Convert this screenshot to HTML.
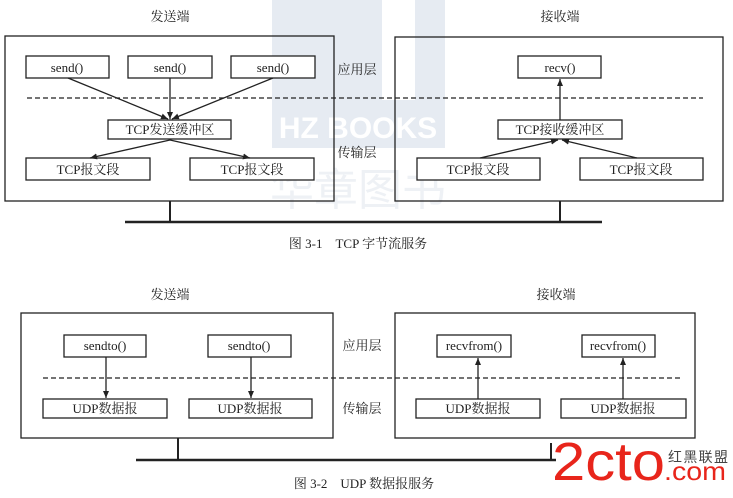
<!DOCTYPE html>
<html><head><meta charset="utf-8"><style>
html,body{margin:0;padding:0;background:#fff;}
svg{display:block;}
text{font-family:"Liberation Serif","Noto Serif CJK SC",serif;fill:#222;}
</style></head><body>
<svg width="733" height="498" viewBox="0 0 733 498" xmlns="http://www.w3.org/2000/svg">
<defs><marker id="a" markerWidth="8" markerHeight="8" refX="7" refY="3" orient="auto" markerUnits="userSpaceOnUse"><path d="M0,0 L7,3 L0,6 z" fill="#222"/></marker></defs>
<!-- watermark -->
<rect x="272" y="0" width="173" height="148" fill="#e6ebf2"/>
<rect x="382" y="0" width="33" height="100" fill="#fff"/>
<text x="358" y="138" font-size="30" font-weight="bold" text-anchor="middle" style="fill:#fff;font-family:'Liberation Sans',sans-serif">HZ BOOKS</text>
<text x="358" y="205" font-size="44" text-anchor="middle" style="fill:#eef1f5;font-family:'Noto Sans CJK SC',sans-serif">华章图书</text>
<g stroke="#222" fill="none" stroke-width="1.3">
<rect x="5" y="36" width="329" height="165"/>
<rect x="395" y="37" width="328" height="164"/>
<rect x="26" y="56" width="83" height="22" fill="#fff"/>
<rect x="128" y="56" width="84" height="22" fill="#fff"/>
<rect x="231" y="56" width="84" height="22" fill="#fff"/>
<rect x="108" y="120" width="123" height="19" fill="#fff"/>
<rect x="26" y="158" width="124" height="22" fill="#fff"/>
<rect x="190" y="158" width="124" height="22" fill="#fff"/>
<rect x="518" y="56" width="83" height="22" fill="#fff"/>
<rect x="498" y="120" width="124" height="19" fill="#fff"/>
<rect x="417" y="158" width="123" height="22" fill="#fff"/>
<rect x="580" y="158" width="123" height="22" fill="#fff"/>
<line x1="27" y1="98" x2="703" y2="98" stroke-dasharray="5,3"/>
<line x1="68" y1="78" x2="168" y2="119" marker-end="url(#a)"/>
<line x1="170" y1="78" x2="170" y2="119" marker-end="url(#a)"/>
<line x1="273" y1="78" x2="172" y2="119" marker-end="url(#a)"/>
<line x1="170" y1="140" x2="90" y2="158" marker-end="url(#a)"/>
<line x1="170" y1="140" x2="250" y2="158" marker-end="url(#a)"/>
<line x1="560" y1="120" x2="560" y2="79" marker-end="url(#a)"/>
<line x1="480" y1="158" x2="558" y2="140" marker-end="url(#a)"/>
<line x1="637" y1="158" x2="562" y2="140" marker-end="url(#a)"/>
<line x1="170" y1="201" x2="170" y2="222" stroke-width="2"/>
<line x1="560" y1="201" x2="560" y2="222" stroke-width="2"/>
<line x1="125" y1="222" x2="602" y2="222" stroke-width="2.5"/>
<!-- bottom -->
<rect x="21" y="313" width="312" height="125"/>
<rect x="395" y="313" width="300" height="125"/>
<rect x="64" y="335" width="82" height="22"/>
<rect x="208" y="335" width="83" height="22"/>
<rect x="437" y="335" width="74" height="22"/>
<rect x="582" y="335" width="73" height="22"/>
<rect x="43" y="399" width="124" height="19"/>
<rect x="189" y="399" width="123" height="19"/>
<rect x="416" y="399" width="124" height="19"/>
<rect x="561" y="399" width="125" height="19"/>
<line x1="43" y1="378" x2="682" y2="378" stroke-dasharray="5,3"/>
<line x1="106" y1="357" x2="106" y2="398" marker-end="url(#a)"/>
<line x1="251" y1="357" x2="251" y2="398" marker-end="url(#a)"/>
<line x1="478" y1="399" x2="478" y2="358" marker-end="url(#a)"/>
<line x1="623" y1="399" x2="623" y2="358" marker-end="url(#a)"/>
<line x1="178" y1="438" x2="178" y2="460" stroke-width="2"/>
<line x1="551" y1="443" x2="551" y2="460" stroke-width="2"/>
<line x1="136" y1="460" x2="556" y2="460" stroke-width="2.5"/>
</g>
<g font-size="13" text-anchor="middle">
<text x="170" y="21">发送端</text>
<text x="560" y="21">接收端</text>
<text x="357" y="74">应用层</text>
<text x="357" y="157">传输层</text>
<text x="67" y="72">send()</text>
<text x="170" y="72">send()</text>
<text x="273" y="72">send()</text>
<text x="170" y="134">TCP发送缓冲区</text>
<text x="88" y="174">TCP报文段</text>
<text x="252" y="174">TCP报文段</text>
<text x="560" y="72">recv()</text>
<text x="560" y="134">TCP接收缓冲区</text>
<text x="478" y="174">TCP报文段</text>
<text x="641" y="174">TCP报文段</text>
<text x="358" y="248">图 3-1　TCP 字节流服务</text>
<text x="170" y="299">发送端</text>
<text x="556" y="299">接收端</text>
<text x="362" y="350">应用层</text>
<text x="362" y="413">传输层</text>
<text x="105" y="350">sendto()</text>
<text x="249" y="350">sendto()</text>
<text x="474" y="350">recvfrom()</text>
<text x="618" y="350">recvfrom()</text>
<text x="105" y="413">UDP数据报</text>
<text x="250" y="413">UDP数据报</text>
<text x="478" y="413">UDP数据报</text>
<text x="623" y="413">UDP数据报</text>
<text x="364" y="488">图 3-2　UDP 数据报服务</text>
</g>
<text x="552" y="480" font-size="54" textLength="113" lengthAdjust="spacingAndGlyphs" style="fill:#e8251b;font-family:'Liberation Sans',sans-serif">2cto</text>
<text x="664" y="480" font-size="26" textLength="62" lengthAdjust="spacingAndGlyphs" style="fill:#e8251b;font-family:'Liberation Sans',sans-serif">.com</text>
<text x="668" y="462" font-size="14" textLength="60" style="fill:#444;font-family:'Noto Sans CJK SC',sans-serif">红黑联盟</text>
</svg>
</body></html>
